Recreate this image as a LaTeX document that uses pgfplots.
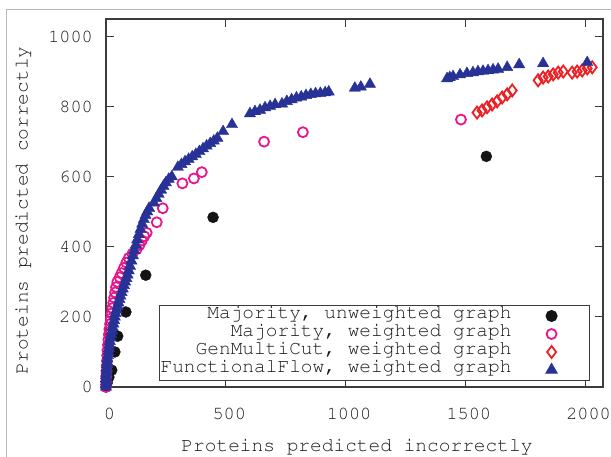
\documentclass[border=0pt]{standalone}
\usepackage{pgfplots}
\pgfplotsset{compat=1.18}
\newcommand\cour[1]{\fontencoding{T1}\fontfamily{pcr}\fontsize{#1}{#1}\selectfont}
\definecolor{mblack}{RGB}{20,20,20}
\definecolor{mpink}{RGB}{232,22,140}
\definecolor{mred}{RGB}{236,32,36}
\definecolor{mblue}{RGB}{40,50,150}
\definecolor{axgray}{RGB}{60,60,60}
\definecolor{txt}{RGB}{25,25,25}
\pgfplotsset{myleg/.style={legend image code/.code={%
  \path[draw=none,fill=none] (0pt,-2pt) rectangle (76pt,2pt);
  \draw[##1] plot[only marks] coordinates {(40pt,0pt)};}}}
\begin{document}
\begin{tikzpicture}[x=1pt,y=1pt]
\useasboundingbox (-106,-70) rectangle (505,387);
\draw[gray!55, line width=1pt] (-99,-70) -- (-99,377) -- (505,377);
\begin{axis}[
  at={(0,0)}, anchor=south west,
  scale only axis, width=497pt, height=368pt,
  xmin=0, xmax=2075, ymin=0, ymax=1050,
  clip=false,
  axis line style={axgray, line width=1.1pt},
  every tick/.style={axgray, line width=1pt},
  major tick length=8pt,
  tick align=inside,
  xtick={0,500,1000,1500,2000},
  ytick={0,200,400,600,800,1000},
  /pgf/number format/assume math mode=true,
  /pgf/number format/1000 sep={},
  xticklabel style={font=\cour{18.5}, anchor=center, inner sep=0pt, yshift=-27pt, xshift=3.5pt, text=txt},
  yticklabel style={font=\cour{18.5}, anchor=east, inner sep=0pt, xshift=-13pt, text=txt},
  xlabel={Proteins predicted incorrectly},
  ylabel={Proteins predicted correctly},
  xlabel style={font=\cour{19.5}, at={(axis description cs:0.505,-0.163)}, anchor=center, text=txt},
  ylabel style={font=\cour{19.5}, at={(axis description cs:-0.167,0.48)}, anchor=center, text=txt},
  legend plot pos=right,
  legend style={at={(rel axis cs:0.973,0.0163)}, anchor=south east,
    draw=axgray, line width=1pt, inner sep=1.5pt, font=\cour{19.5}, text=txt,
    nodes={inner sep=0pt, text height=11.5pt, text depth=6.5pt},
    cells={anchor=east}},
]
\addplot[only marks, mark=*, mark size=5.5pt, draw=mblack, fill=mblack, myleg] coordinates {
(0,0) (5,12) (12,28) (24,48) (37,100) (49,145) (83,214) (166,319) (447,484) (1588,658)
};
\addlegendentry{Majority, unweighted graph}
\addplot[only marks, mark=o, mark size=5pt, draw=mpink, line width=1.8pt, myleg] coordinates {
(0,0) (0,15) (1,30) (2,45) (3,60) (4,75) (5,90) (6,105) (8,120) (10,135) (12,150) (14,165)
(17,180) (20,195) (23,210) (26,225) (30,240) (34,255) (38,270) (42,285) (47,300) (57,313)
(65,325) (75,340) (85,355) (95,368) (110,380) (128,393) (140,405) (150,418) (160,430)
(170,440) (212,470) (237,510) (319,581) (367,595) (400,613) (660,700) (822,727) (1482,763)
};
\addlegendentry{Majority, weighted graph}
\addplot[only marks, mark=diamond, mark size=6pt, draw=mred, line width=1.8pt, myleg] coordinates {
(1549,783) (1570,789) (1591,798) (1612,806) (1633,815) (1654,826) (1675,835) (1696,846)
(1804,875) (1825,883) (1846,886) (1867,892) (1888,897) (1909,900)
(1946,897) (1967,900) (1988,903) (2009,909) (2030,912)
};
\addlegendentry{GenMultiCut, weighted graph}
\addplot[only marks, mark=triangle*, mark size=6.5pt, draw=mblue, fill=mblue, myleg] coordinates {
(0,0) (0,8) (0,16) (0,24) (0,32) (1,40) (2,48) (3,56) (4,64) (5,72) (6,80) (8,90) (10,100)
(12,110) (14,120) (16,130) (19,140) (22,150) (25,160) (28,170) (31,180) (34,190) (37,200)
(40,210) (44,220) (48,230) (52,240) (56,250) (60,260) (65,270) (70,280) (75,290) (80,300)
(85,310) (90,320) (95,332) (100,345) (106,360) (112,375) (118,390) (124,405) (130,420)
(137,435) (144,450) (151,465) (158,478) (165,490) (172,500) (180,510) (200,525) (210,538)
(220,550) (230,562) (240,573) (250,583) (262,593) (275,600) (300,627) (315,635) (330,643)
(345,650) (360,657) (375,664) (390,672) (405,680) (420,688) (435,695) (450,702) (465,710)
(489,729) (526,749) (601,780) (622,786) (643,790) (664,797) (685,801) (706,806) (735,808)
(755,815) (775,820) (795,825) (815,828) (835,832) (855,835) (875,837) (895,838) (915,840)
(930,842) (1039,853) (1064,856) (1102,864) (1424,880) (1435,883) (1449,886) (1478,891)
(1507,895) (1532,897) (1553,900) (1574,901) (1595,903) (1616,905) (1637,907) (1675,912)
(1725,920) (1825,923) (2009,926)
};
\addlegendentry{FunctionalFlow, weighted graph}
\end{axis}
\end{tikzpicture}
\end{document}
